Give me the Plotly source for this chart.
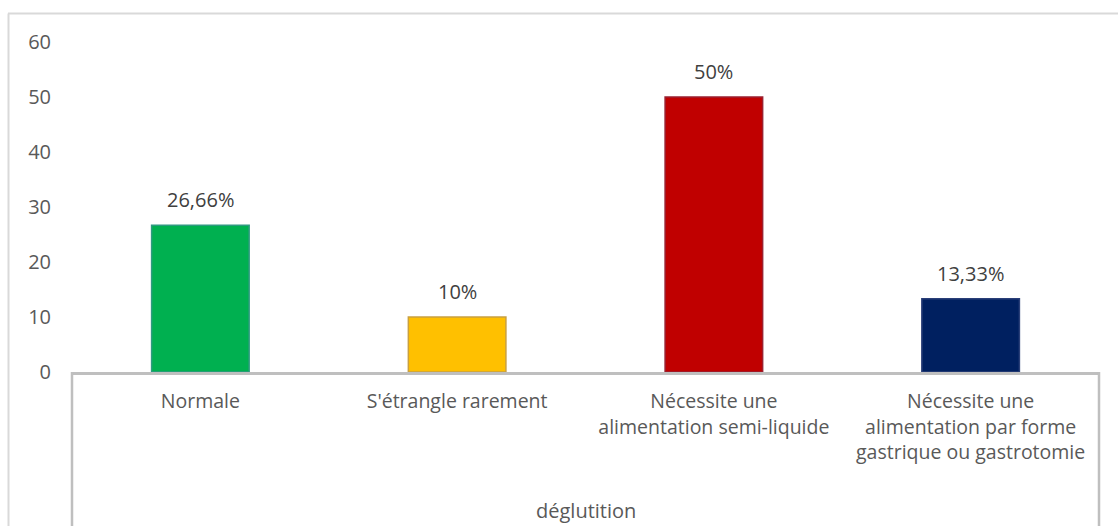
import plotly.graph_objects as go

# Swallowing categories and their shares (percent)
categories = [
    "Normale",
    "S'étrangle rarement",
    "Nécessite une<br>alimentation semi-liquide",
    "Nécessite une<br>alimentation par forme<br>gastrique ou gastrotomie",
]
values = [26.66, 10, 50, 13.33]
value_labels = ["26,66%", "10%", "50%", "13,33%"]
bar_colors = ["#00b050", "#ffc000", "#c00000", "#002060"]
edge_colors = ["#2f9a80", "#c9a040", "#9a2030", "#2a3f78"]
y_ticks = [0, 10, 20, 30, 40, 50, 60]
axis_title = "déglutition"

FONT = "Open Sans"
W, H = 1118, 526
L, R, T, B = 72, 19, 42, 154
ph = H - T - B
pw = W - L - R

fig = go.Figure()
fig.add_trace(go.Bar(
    x=categories,
    y=values,
    width=0.38,
    marker=dict(color=bar_colors, line=dict(color=edge_colors, width=1.5)),
    hoverinfo="skip",
))

# Value labels above each bar
for cat, val, lab in zip(categories, values, value_labels):
    fig.add_annotation(
        x=cat, y=val, text=lab, showarrow=False,
        xref="x", yref="y", yanchor="bottom", yshift=10,
        font=dict(family=FONT, size=20, color="#404040"),
    )

# Axis title under the category labels
fig.add_annotation(
    x=0.5, y=-(510 - (H - B)) / ph,
    xref="paper", yref="paper", text=axis_title, showarrow=False,
    yanchor="middle", font=dict(family=FONT, size=20, color="#595959"),
)

line_col = "#bfbfbf"
# Category box: vertical sides below the axis line
for xp in (0, 1):
    fig.add_shape(type="line", xref="paper", yref="paper",
                  x0=xp, x1=xp, y0=0, y1=-(B + 5) / ph,
                  line=dict(color=line_col, width=2.5), layer="above")

# Chart frame (top and left edges)
fig.add_shape(type="line", xref="paper", yref="paper",
              x0=-(L - 8) / pw, x1=(W - L + 5) / pw,
              y0=1 + (T - 13.5) / ph, y1=1 + (T - 13.5) / ph,
              line=dict(color="#d9d9d9", width=2), layer="above")
fig.add_shape(type="line", xref="paper", yref="paper",
              x0=-(L - 8.5) / pw, x1=-(L - 8.5) / pw,
              y0=1 + (T - 13.5) / ph, y1=-(B + 5) / ph,
              line=dict(color="#d9d9d9", width=2), layer="above")

fig.update_layout(
    width=W, height=H,
    margin=dict(l=L, r=R, t=T, b=B, autoexpand=False),
    paper_bgcolor="white", plot_bgcolor="white",
    showlegend=False,
    font=dict(family=FONT, size=18, color="#595959"),
)
fig.update_xaxes(
    showline=True, linecolor=line_col, linewidth=2.5,
    showgrid=False, ticks="", ticklabelstandoff=10,
    tickfont=dict(family=FONT, size=19.5, color="#595959"),
    automargin=False,
)
fig.update_yaxes(
    range=[0, 60], tickvals=y_ticks, showgrid=False, zeroline=False,
    showline=False, ticks="", ticklabelstandoff=20,
    tickfont=dict(family=FONT, size=20, color="#595959"),
    automargin=False,
)

fig.write_html("out.html")
